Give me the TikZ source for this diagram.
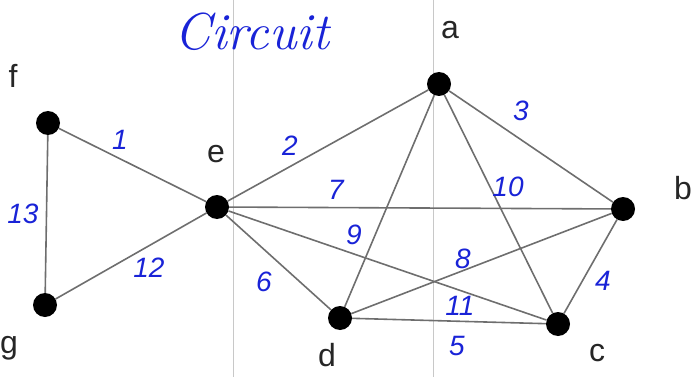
\documentclass[tikz,border=0pt]{standalone}
\usepackage{fontspec}
\setmainfont{Liberation Sans}
\newfontfamily\handfont{Latin Modern Roman}
\definecolor{ink}{RGB}{25,35,215}
\definecolor{edgegray}{RGB}{110,110,110}
\definecolor{foldgray}{RGB}{200,200,200}
\begin{document}
\begin{tikzpicture}[x=1pt,y=-1pt,
  vtx/.style={circle,fill=black,minimum size=24pt,inner sep=0pt},
  vlabel/.style={font=\fontsize{32}{34}\selectfont,text=black!85,inner sep=0pt},
  wlabel/.style={font=\fontsize{28}{30}\selectfont\itshape,text=ink,inner sep=0pt},
  edge/.style={draw=edgegray,line width=1.6pt},
  fold/.style={draw=foldgray,line width=1pt}]
\useasboundingbox (0,0) rectangle (693,377);
% fold lines
\coordinate (ft1) at (233,0); \coordinate (fb1) at (233,377);
\coordinate (ft2) at (433,0); \coordinate (fb2) at (433,377);
\draw[fold] (ft1) -- (fb1);
\draw[fold] (ft2) -- (fb2);
% vertices
\node[vtx] (a) at (439,84) {};
\node[vtx] (b) at (623,209) {};
\node[vtx] (c) at (558,324) {};
\node[vtx] (d) at (340,318) {};
\node[vtx] (e) at (217,207) {};
\node[vtx] (f) at (48,123) {};
\node[vtx] (g) at (45,305) {};
% edges
\draw[edge] (f) -- (e);
\draw[edge] (f) -- (g);
\draw[edge] (g) -- (e);
\draw[edge] (e) -- (a);
\draw[edge] (a) -- (b);
\draw[edge] (a) -- (c);
\draw[edge] (a) -- (d);
\draw[edge] (e) -- (b);
\draw[edge] (e) -- (c);
\draw[edge] (e) -- (d);
\draw[edge] (d) -- (b);
\draw[edge] (d) -- (c);
\draw[edge] (b) -- (c);
% vertex labels
\node[vlabel] (la) at (450,30) {a};
\node[vlabel] (lb) at (683,188) {b};
\node[vlabel] (lc) at (597,353) {c};
\node[vlabel] (ld) at (327,355) {d};
\node[vlabel] (le) at (216,154) {e};
\node[vlabel] (lf) at (13,76) {f};
\node[vlabel] (lg) at (9,348) {g};
% weights
\node[wlabel] (w1) at (120,140) {1};
\node[wlabel] (w2) at (290,146) {2};
\node[wlabel] (w3) at (521,111) {3};
\node[wlabel] (w4) at (603,281) {4};
\node[wlabel] (w5) at (457,346) {5};
\node[wlabel] (w6) at (264,282) {6};
\node[wlabel] (w7) at (336,190) {7};
\node[wlabel] (w8) at (463,259) {8};
\node[wlabel] (w9) at (354,235) {9};
\node[wlabel] (w10) at (508,187) {10};
\node[wlabel] (w11) at (460,306) {11};
\node[wlabel] (w12) at (149,268) {12};
\node[wlabel] (w13) at (23,214) {13};
% title
\node[font=\handfont\fontsize{52}{54}\selectfont\itshape,text=ink,inner sep=0pt] (title) at (252,32) {Circuit};
\end{tikzpicture}
\end{document}
